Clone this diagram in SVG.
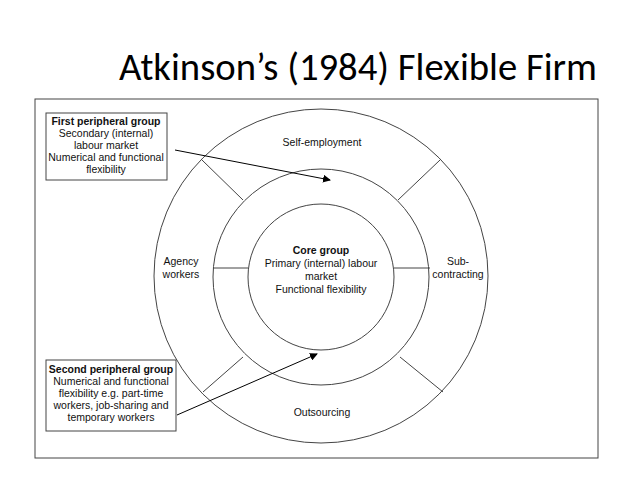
<svg xmlns="http://www.w3.org/2000/svg" width="638" height="478" viewBox="0 0 638 478">
<defs>
<marker id="ah" markerWidth="8" markerHeight="8" refX="7" refY="4" orient="auto" markerUnits="userSpaceOnUse"><path d="M0,0 L8,4 L0,8 z" fill="#000"/></marker>
<style>
.s{fill:none;stroke:#444;stroke-width:1}
.t{font-family:"Liberation Sans",Arial,sans-serif;font-size:10.5px;fill:#111;text-anchor:middle}
.b{font-weight:bold}
</style>
</defs>
<rect width="638" height="478" fill="#fff"/>
<text x="358" y="80" font-family="Carlito,'Open Sans','Liberation Sans',sans-serif" font-size="38" fill="#000" text-anchor="middle" textLength="478" lengthAdjust="spacingAndGlyphs">Atkinson’s (1984) Flexible Firm</text>
<rect x="35" y="99" width="563" height="359" class="s"/>
<g id="rings">
<circle cx="321" cy="276" r="167" class="s"/>
<circle cx="321" cy="277" r="108" class="s"/>
<circle cx="321" cy="277" r="73" class="s"/>
</g>
<g id="dividers">
<line x1="243" y1="200" x2="202" y2="160" class="s"/>
<line x1="398" y1="200" x2="440" y2="160" class="s"/>
<line x1="243" y1="357" x2="203" y2="392" class="s"/>
<line x1="400" y1="357" x2="443" y2="392" class="s"/>
<line x1="213" y1="268" x2="248" y2="268" class="s"/>
<line x1="394" y1="268" x2="430" y2="268" class="s"/>
</g>
<g id="labels">
<text class="t" x="322" y="146">Self-employment</text>
<text class="t" x="322" y="416">Outsourcing</text>
<text class="t" x="181" y="265">Agency</text>
<text class="t" x="181" y="278">workers</text>
<text class="t" x="458" y="265">Sub-</text>
<text class="t" x="458" y="278">contracting</text>
</g>
<g id="core">
<text class="t b" x="321" y="254">Core group</text>
<text class="t" x="321" y="267">Primary (internal) labour</text>
<text class="t" x="321" y="280">market</text>
<text class="t" x="321" y="293">Functional flexibility</text>
</g>
<g id="first">
<rect x="46" y="113" width="121" height="67" fill="#fff" class="s"/>
<text class="t b" x="106" y="125">First peripheral group</text>
<text class="t" x="106" y="137">Secondary (internal)</text>
<text class="t" x="106" y="149">labour market</text>
<text class="t" x="106" y="161">Numerical and functional</text>
<text class="t" x="106" y="173">flexibility</text>
</g>
<g id="second">
<rect x="46" y="360" width="130" height="71" fill="#fff" class="s"/>
<text class="t b" x="111" y="373">Second peripheral group</text>
<text class="t" x="111" y="385">Numerical and functional</text>
<text class="t" x="111" y="397">flexibility e.g. part-time</text>
<text class="t" x="111" y="409">workers, job-sharing and</text>
<text class="t" x="111" y="421">temporary workers</text>
</g>
<g id="connectors">
<line x1="175" y1="150" x2="330" y2="180" stroke="#000" marker-end="url(#ah)"/>
<line x1="177" y1="415" x2="317" y2="354" stroke="#000" marker-end="url(#ah)"/>
</g>
</svg>
